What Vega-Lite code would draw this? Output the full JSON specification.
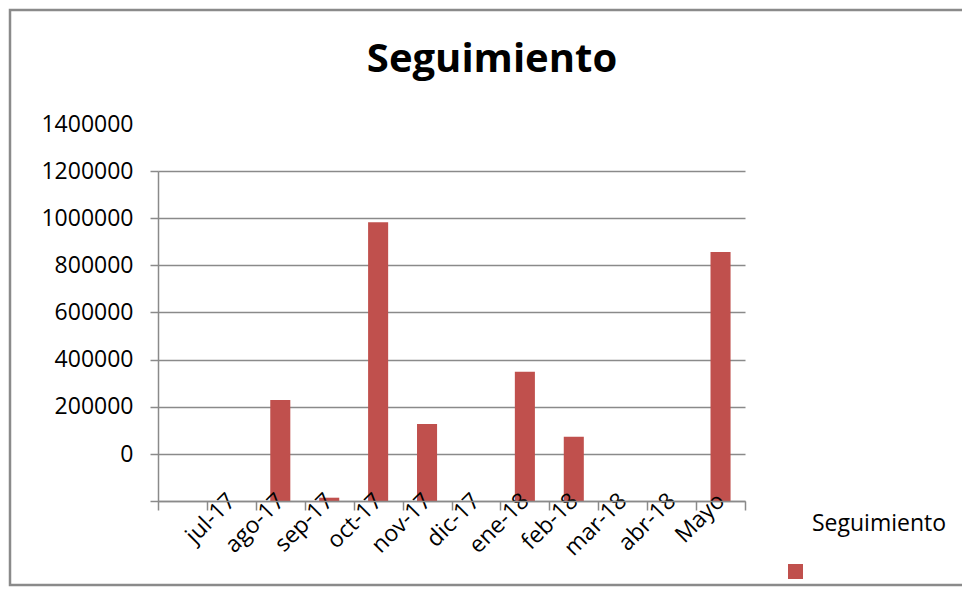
{
  "$schema": "https://vega.github.io/schema/vega-lite/v6.json",
  "width": 954,
  "height": 575,
  "autosize": {"type": "none"},
  "padding": {"left": 10, "top": 10, "right": -2, "bottom": 14},
  "background": "white",
  "config": {
    "font": "Open Sans",
    "view": {"stroke": "#8a8a8a", "strokeWidth": 2.5}
  },
  "title": {
    "text": "Seguimiento",
    "font": "Open Sans",
    "fontSize": 40,
    "fontWeight": "bold",
    "color": "#000000",
    "anchor": "middle",
    "offset": -70,
    "dx": 5
  },
  "data": {
    "values": [
      {"mes": "jul-17", "valor": 0, "serie": "Seguimiento"},
      {"mes": "ago-17", "valor": 429000, "serie": "Seguimiento"},
      {"mes": "sep-17", "valor": 14000, "serie": "Seguimiento"},
      {"mes": "oct-17", "valor": 1183000, "serie": "Seguimiento"},
      {"mes": "nov-17", "valor": 327000, "serie": "Seguimiento"},
      {"mes": "dic-17", "valor": 0, "serie": "Seguimiento"},
      {"mes": "ene-18", "valor": 548000, "serie": "Seguimiento"},
      {"mes": "feb-18", "valor": 273000, "serie": "Seguimiento"},
      {"mes": "mar-18", "valor": 0, "serie": "Seguimiento"},
      {"mes": "abr-18", "valor": 0, "serie": "Seguimiento"},
      {"mes": "Mayo", "valor": 1056000, "serie": "Seguimiento"}
    ]
  },
  "mark": {"type": "bar", "width": {"band": 0.41}},
  "encoding": {
    "x": {
      "field": "mes",
      "type": "nominal",
      "sort": null,
      "scale": {
        "domain": ["", "jul-17", "ago-17", "sep-17", "oct-17", "nov-17", "dic-17", "ene-18", "feb-18", "mar-18", "abr-18", "Mayo"],
        "range": [148, 735],
        "paddingInner": 0,
        "paddingOuter": 0
      },
      "axis": {
        "title": null,
        "zindex": 1,
        "offset": -84,
        "labelAngle": -45,
        "labelAlign": "right",
        "labelBaseline": "middle",
        "labelFont": "Open Sans",
        "labelFontSize": 23,
        "labelColor": "#000000",
        "labelPadding": -13,
        "labelOverlap": false,
        "labelLimit": 0,
        "tickBand": "extent",
        "tickSize": 9,
        "tickColor": "#8a8a8a",
        "tickWidth": 1.5,
        "domainColor": "#8a8a8a",
        "domainWidth": 1.5,
        "grid": false
      }
    },
    "y": {
      "field": "valor",
      "type": "quantitative",
      "scale": {"domain": [0, 1400000], "range": [491, 161], "nice": false, "zero": true},
      "axis": {
        "title": null,
        "offset": -148,
        "values": [0, 200000, 400000, 600000, 800000, 1000000, 1200000, 1400000],
        "format": "d",
        "grid": true,
        "gridColor": "#8a8a8a",
        "gridWidth": 1.5,
        "domainColor": "#8a8a8a",
        "domainWidth": 1.5,
        "tickColor": "#8a8a8a",
        "tickWidth": 1.5,
        "tickSize": 8,
        "labelFont": "Open Sans",
        "labelFontSize": 23,
        "labelColor": "#000000",
        "labelPadding": 17,
        "labelOffset": -47,
        "labelOverlap": false
      }
    },
    "color": {
      "field": "serie",
      "type": "nominal",
      "scale": {"range": ["#C0504D"]},
      "legend": {
        "orient": "none",
        "legendX": 802,
        "legendY": 503,
        "title": "Seguimiento",
        "titleFont": "Open Sans",
        "titleFontSize": 23,
        "titleFontWeight": "normal",
        "titleColor": "#000000",
        "titlePadding": 28,
        "labelExpr": "''",
        "symbolType": "square",
        "symbolSize": 225,
        "symbolOffset": -24,
        "symbolStrokeWidth": 0,
        "padding": 0
      }
    }
  }
}
